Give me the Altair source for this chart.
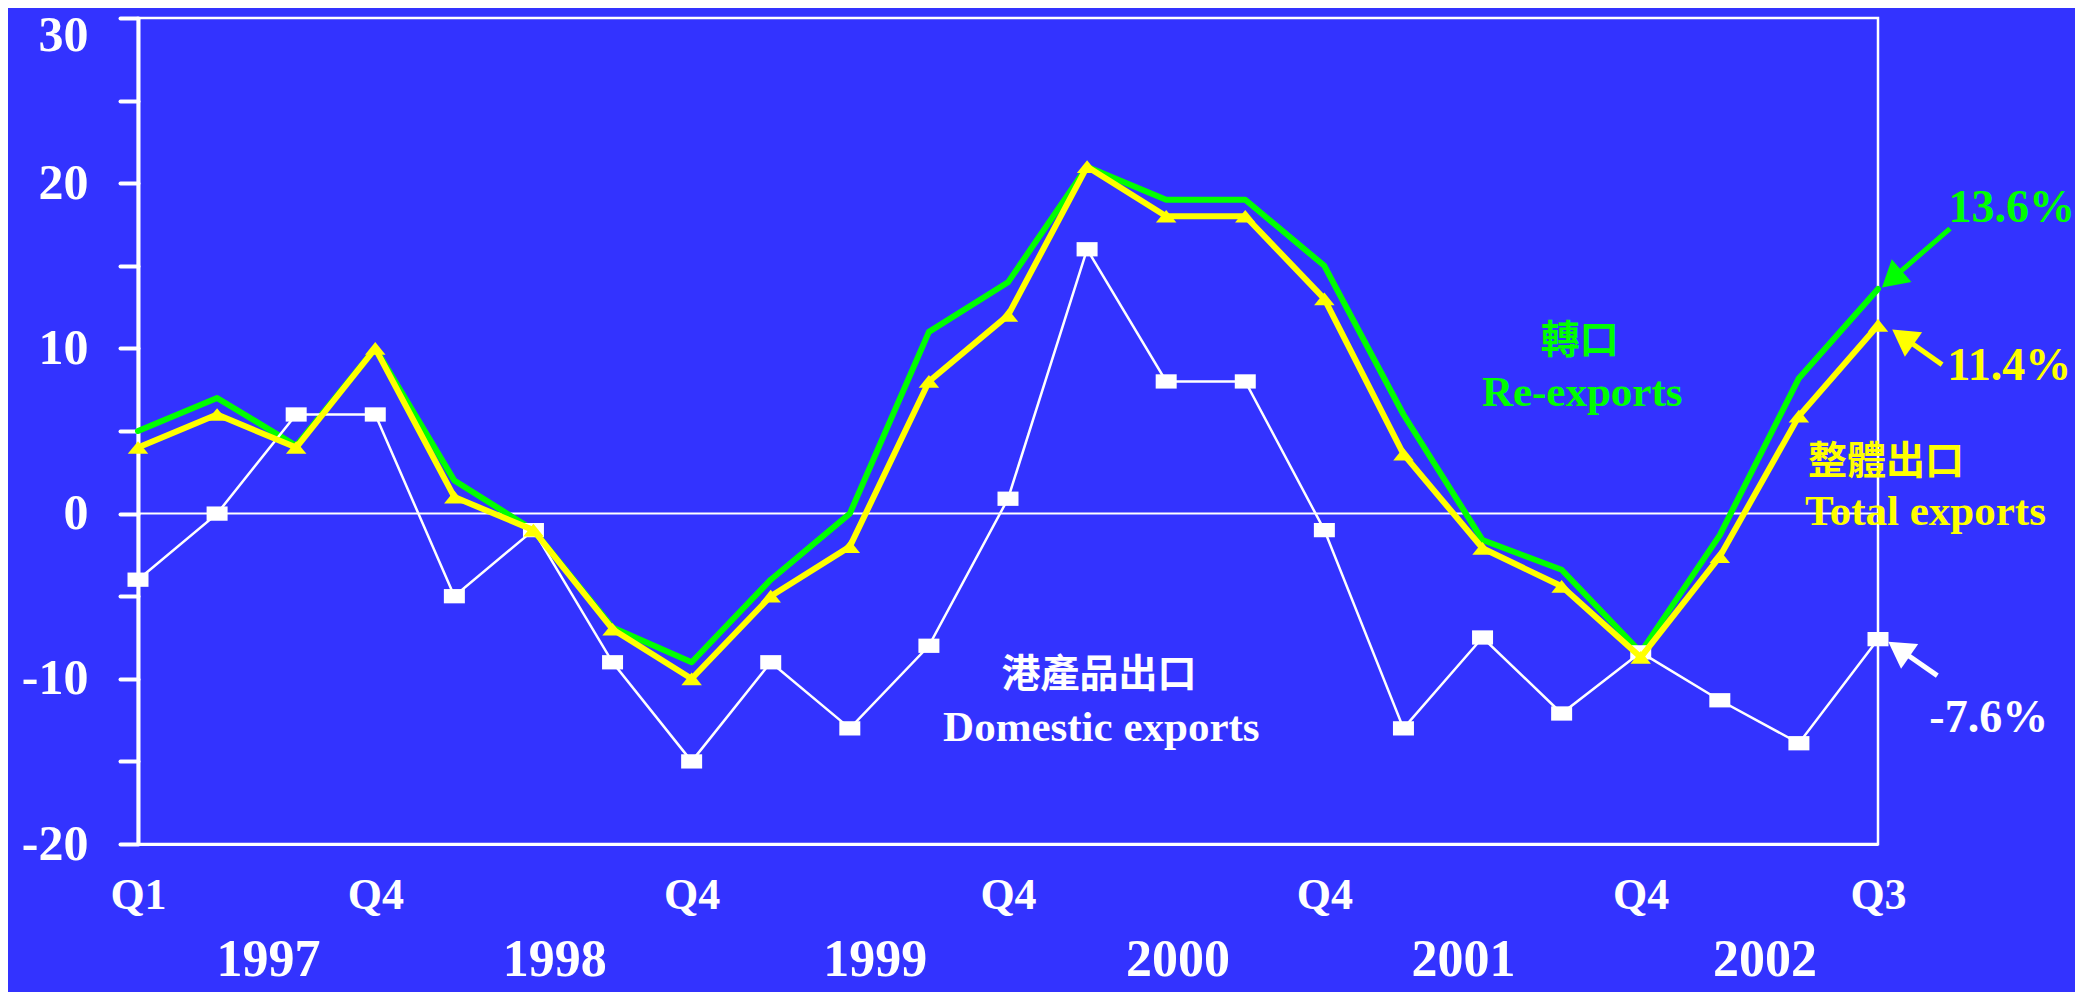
import math
import pandas as pd
import altair as alt

# ---------------- data ----------------
years = [1997] * 4 + [1998] * 4 + [1999] * 4 + [2000] * 4 + [2001] * 4 + [2002] * 3
quarters = ["Q1", "Q2", "Q3", "Q4"] * 5 + ["Q1", "Q2", "Q3"]

re_exports = [5.0, 7.0, 4.1, 10.0, 2.0, -1.0, -6.9, -9.0, -4.0, 0.0, 11.0, 14.0,
              21.0, 19.0, 19.0, 15.0, 6.0, -1.6, -3.4, -8.4, -1.3, 8.2, 13.6]
total_exports = [4.0, 6.0, 4.0, 10.0, 1.0, -1.0, -7.0, -10.0, -5.0, -2.0, 8.0, 12.0,
                 21.0, 18.0, 18.0, 13.0, 3.6, -2.1, -4.4, -8.7, -2.6, 5.9, 11.4]
domestic_exports = [-4.0, 0.0, 6.0, 6.0, -5.0, -1.0, -9.0, -15.0, -9.0, -13.0, -8.0, 0.9,
                    16.0, 8.0, 8.0, -1.0, -13.0, -7.5, -12.1, -8.4, -11.3, -13.9, -7.6]

y_ticks = [-20, -15, -10, -5, 0, 5, 10, 15, 20, 25, 30]
year_names = ["1997", "1998", "1999", "2000", "2001", "2002"]
year_label_at = [1.65, 5.27, 9.32, 13.15, 16.76, 20.57]   # quarter index under which each year sits
year_label_y = -28.0

GREEN, YELLOW, WHITE, BLUE = "#00FF00", "#FFFF00", "#FFFFFF", "#3333FF"

latin_notes = pd.DataFrame({
    "text": ["13.6%", "11.4%", "-7.6%", "Re-exports", "Total exports", "Domestic exports"],
    "ax": [23.69, 23.66, 23.40, 18.26, 22.60, 12.18],
    "ay": [17.68, 8.11, -13.20, 6.54, -0.67, -13.74],
    "col": [GREEN, YELLOW, WHITE, GREEN, YELLOW, WHITE],
    "fs": [46, 46, 46, 43, 43, 43],
})
cjk_notes = pd.DataFrame({
    "text": ["轉口", "整體出口", "港產品出口"],
    "ax": [18.23, 22.10, 12.15],
    "ay": [10.47, 3.15, -9.80],
    "col": [GREEN, YELLOW, WHITE],
    "fs": [39, 39, 39],
})
# arrows: colour, tail (x, y), tip (x, y) in data units
arrow_specs = [
    (GREEN, 22.91, 17.25, 22.05, 13.68),
    (YELLOW, 22.81, 9.02, 22.18, 11.14),
    (WHITE, 22.75, -9.81, 22.13, -7.75),
]

# ---------------- layout ----------------
W, H = 1740, 826
n = len(quarters)
X_MAX = n - 1
Y_MIN, Y_MAX = -20, 30
px_x = W / X_MAX
px_y = H / (Y_MAX - Y_MIN)

HEAD = 900
half_len = math.sqrt(3) / 2 * math.sqrt(HEAD) / 2
rows = []
for col, tx, ty, hx, hy in arrow_specs:
    dx = (hx - tx) * px_x
    dy = -(hy - ty) * px_y
    L = math.hypot(dx, dy)
    ux, uy = dx / L, dy / L
    ang = (math.degrees(math.atan2(ux, -uy)) + 360) % 360
    cx = hx - ux * half_len / px_x
    cy = hy + uy * half_len / px_y
    rows.append({"x": tx, "y": ty, "x2": cx, "y2": cy, "ang": ang, "col": col})
arrows = pd.DataFrame(rows)

idx = list(range(n))
df_re = pd.DataFrame({"i": idx, "v": re_exports})
df_tot = pd.DataFrame({"i": idx, "v": total_exports})
df_dom = pd.DataFrame({"i": idx, "v": domestic_exports})
df_years = pd.DataFrame({"text": year_names, "ax": year_label_at, "ay": [year_label_y] * len(year_names)})

q_label_idx = [0] + [k for k, q in enumerate(quarters) if q == "Q4"] + [X_MAX]
q_js = "[" + ",".join("'" + q + "'" for q in quarters) + "]"

xscale = alt.Scale(domain=[0, X_MAX], nice=False, zero=False)
yscale = alt.Scale(domain=[Y_MIN, Y_MAX], nice=False, zero=False)
xaxis = alt.Axis(values=q_label_idx, labelExpr=q_js + "[datum.value]", title=None,
                 ticks=False, tickSize=0, domain=True, domainColor="white", domainWidth=3,
                 labelColor="white", labelFont="Liberation Serif", labelFontWeight="bold",
                 labelFontSize=44, labelPadding=64, labelBaseline="alphabetic",
                 grid=False, labelOverlap=False, labelFlush=False)
yaxis = alt.Axis(values=y_ticks,
                 labelExpr="datum.value % 10 === 0 ? (datum.value === 0 ? '0\u00a0' : '' + datum.value) : ''",
                 title=None, ticks=True, tickSize=18, tickWidth=4, tickColor="white", tickCap="round",
                 domain=True, domainColor="white", domainWidth=4,
                 labelColor="white", labelFont="Liberation Serif", labelFontWeight="bold",
                 labelFontSize=50, labelPadding=32, labelAlign="right", labelBaseline="middle",
                 grid=False, labelOverlap=False, labelFlush=False,
                 labelOffset={"condition": {"test": "datum.value === 30", "value": 17}, "value": 0})


def X(f):
    return alt.X(f, type="quantitative", scale=xscale, axis=xaxis)


def Y(f):
    return alt.Y(f, type="quantitative", scale=yscale, axis=yaxis)


zero = alt.Chart(pd.DataFrame({"v": [0]})).mark_rule(color="white", strokeWidth=2).encode(y=Y("v"))

green_line = alt.Chart(df_re).mark_line(color=GREEN, strokeWidth=6, strokeJoin="round",
                                        strokeCap="round").encode(x=X("i"), y=Y("v"))
white_line = alt.Chart(df_dom).mark_line(color=WHITE, strokeWidth=2.5).encode(x=X("i"), y=Y("v"))
white_pts = alt.Chart(df_dom).mark_point(shape="M-1,-0.68L1,-0.68L1,0.68L-1,0.68Z", size=441,
                                         filled=True, color=WHITE, opacity=1,
                                         strokeWidth=0).encode(x=X("i"), y=Y("v"))
yellow_line = alt.Chart(df_tot).mark_line(color=YELLOW, strokeWidth=6, strokeJoin="round",
                                          strokeCap="round").encode(x=X("i"), y=Y("v"))
yellow_pts = alt.Chart(df_tot).mark_point(shape="M0,-0.62L1,0.62L-1,0.62Z", size=420,
                                          filled=True, color=YELLOW, opacity=1,
                                          strokeWidth=0).encode(x=X("i"), y=Y("v"))

arrow_shaft = alt.Chart(arrows).mark_rule(strokeWidth=5).encode(
    x=X("x"), y=Y("y"), x2=alt.X2("x2"), y2=alt.Y2("y2"),
    color=alt.Color("col:N", scale=None))
arrow_head = alt.Chart(arrows).mark_point(shape="triangle-up", size=HEAD, filled=True,
                                          opacity=1, strokeWidth=0).encode(
    x=X("x2"), y=Y("y2"), angle=alt.Angle("ang:Q", scale=None),
    color=alt.Color("col:N", scale=None))

latin_text = alt.Chart(latin_notes).mark_text(font="Liberation Serif", fontWeight="bold",
                                              baseline="alphabetic", align="center").encode(
    x=X("ax"), y=Y("ay"), text="text:N",
    color=alt.Color("col:N", scale=None), size=alt.Size("fs:Q", scale=None))
cjk_text = alt.Chart(cjk_notes).mark_text(font="Noto Sans CJK TC", fontWeight="bold",
                                          baseline="middle", align="center").encode(
    x=X("ax"), y=Y("ay"), text="text:N",
    color=alt.Color("col:N", scale=None), size=alt.Size("fs:Q", scale=None))
year_text = alt.Chart(df_years).mark_text(font="Liberation Serif", fontWeight="bold", fontSize=52,
                                          color="white", baseline="alphabetic", align="center").encode(
    x=X("ax"), y=Y("ay"), text="text:N")

chart = alt.layer(
    zero, green_line, white_line, white_pts, yellow_line, yellow_pts,
    arrow_shaft, arrow_head, latin_text, cjk_text, year_text
).properties(
    width=W, height=H,
    autosize=alt.AutoSizeParams(type="none"),
    padding={"left": 130, "top": 10, "right": 197, "bottom": 148},
    background=BLUE,
).configure_view(stroke="white", strokeWidth=2.5)

chart.save("out.html", embed_options={"renderer": "svg", "actions": False})
